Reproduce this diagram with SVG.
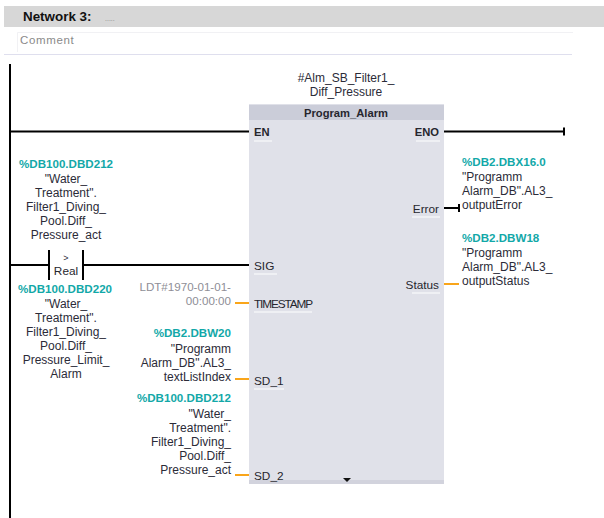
<svg xmlns="http://www.w3.org/2000/svg" width="604" height="518" viewBox="0 0 604 518">
<style>
text{font-family:"Liberation Sans",Arial,sans-serif;font-size:12px;fill:#2b2b38}
.a{fill:#12a8a8;font-weight:700;font-size:11.6px}
.m{text-anchor:middle}.e{text-anchor:end}
.p{font-size:11.8px;fill:#26262e}
.b{font-weight:700;font-size:11.2px}
.g{fill:#8e8e96;font-size:11.6px}
.u{stroke:#f4f5f8;stroke-width:1.5;fill:none}
.k{stroke:#000;stroke-width:2;fill:none}
.o{stroke:#f9a51a;stroke-width:2;fill:none}
</style>
<rect width="604" height="518" fill="#fff"/>
<g id="header">
<rect x="4" y="6" width="600" height="21" fill="#d7d7d7"/>
<text x="23" y="21" style="font-size:13.400px;font-weight:700;fill:#111">Network 3:</text>
<text x="105" y="21" style="font-size:7px;fill:#888">.....</text>
<path d="M17.500 52V32.500H573" fill="none" stroke="#f1f1f4"/>
<text x="20" y="44" style="font-size:11.5px;fill:#8a8a8a;letter-spacing:.65px">Comment</text>
<path d="M4 54.500H572" stroke="#dfdfee"/>
</g>
<g id="connectors">
<path class="k" d="M10 64V518"/>
<path class="k" d="M10 131.500H249M444 131.500H564M564 127.500V135.500"/>
<path class="k" d="M10 265H49M83 265H249M49 250V280M83 250V280"/>
<path class="k" d="M444 208H459M459 204V212"/>
<path class="o" d="M444 284H459M235 303H249M235 379H249M235 475H249"/>
</g>
<g id="block">
<rect x="249" y="104" width="195" height="380" fill="#e0e1e9"/>
<rect x="249" y="105" width="195" height="15" fill="#cbcdd9"/>
<rect x="249" y="480" width="195" height="4" fill="#d2d3dd"/>
<text class="p b m" x="346" y="117">Program_Alarm</text>
<text class="p b" x="254" y="136">EN</text>
<text class="p" x="254" y="270">SIG</text>
<text class="p" x="254" y="308" style="letter-spacing:-1.100px">TIMESTAMP</text>
<text class="p" x="254" y="385">SD_1</text>
<text class="p" x="254" y="480">SD_2</text>
<text class="p b e" x="439" y="136">ENO</text>
<text class="p e" x="439" y="213">Error</text>
<text class="p e" x="439" y="289">Status</text>
<path class="u" d="M254 141H272M254 274H277M254 312H312M254 389H284M416 141H440M412 217H440M412 293H440"/>
<path d="M343 478H351L347 482Z" fill="#111"/>
</g>
<g id="instance">
<text class="m" y="82"><tspan x="346">#Alm_SB_Filter1_</tspan><tspan x="346" dy="14">Diff_Pressure</tspan></text>
</g>
<g id="compare">
<text class="m" y="261"><tspan x="66" style="font-size:9px">&gt;</tspan><tspan class="p" x="66" dy="14">Real</tspan></text>
</g>
<g id="op1">
<text class="m" y="168"><tspan class="a" x="66">%DB100.DBD212</tspan><tspan x="66" dy="15">"Water_</tspan><tspan x="66" dy="14">Treatment".</tspan><tspan x="66" dy="14">Filter1_Diving_</tspan><tspan x="66" dy="14">Pool.Diff_</tspan><tspan x="66" dy="14">Pressure_act</tspan></text>
</g>
<g id="op2">
<text class="m" y="293"><tspan class="a" x="65">%DB100.DBD220</tspan><tspan x="66" dy="15">"Water_</tspan><tspan x="66" dy="14">Treatment".</tspan><tspan x="66" dy="14">Filter1_Diving_</tspan><tspan x="66" dy="14">Pool.Diff_</tspan><tspan x="66" dy="14">Pressure_Limit_</tspan><tspan x="66" dy="14">Alarm</tspan></text>
</g>
<g id="timestamp">
<text class="e g" y="291"><tspan x="231">LDT#1970-01-01-</tspan><tspan x="231" dy="14">00:00:00</tspan></text>
</g>
<g id="sd1">
<text class="e" y="337"><tspan class="a" x="231">%DB2.DBW20</tspan><tspan x="231" dy="16">"Programm</tspan><tspan x="231" dy="14">Alarm_DB".AL3_</tspan><tspan x="231" dy="14">textListIndex</tspan></text>
</g>
<g id="sd2">
<text class="e" y="402"><tspan class="a" x="231">%DB100.DBD212</tspan><tspan x="231" dy="16">"Water_</tspan><tspan x="231" dy="14">Treatment".</tspan><tspan x="231" dy="14">Filter1_Diving_</tspan><tspan x="231" dy="14">Pool.Diff_</tspan><tspan x="231" dy="14">Pressure_act</tspan></text>
</g>
<g id="error">
<text y="166"><tspan class="a" x="462">%DB2.DBX16.0</tspan><tspan x="462" dy="15">"Programm</tspan><tspan x="462" dy="14">Alarm_DB".AL3_</tspan><tspan x="462" dy="14">outputError</tspan></text>
</g>
<g id="status">
<text y="242"><tspan class="a" x="462">%DB2.DBW18</tspan><tspan x="462" dy="15">"Programm</tspan><tspan x="462" dy="14">Alarm_DB".AL3_</tspan><tspan x="462" dy="14">outputStatus</tspan></text>
</g>
</svg>
